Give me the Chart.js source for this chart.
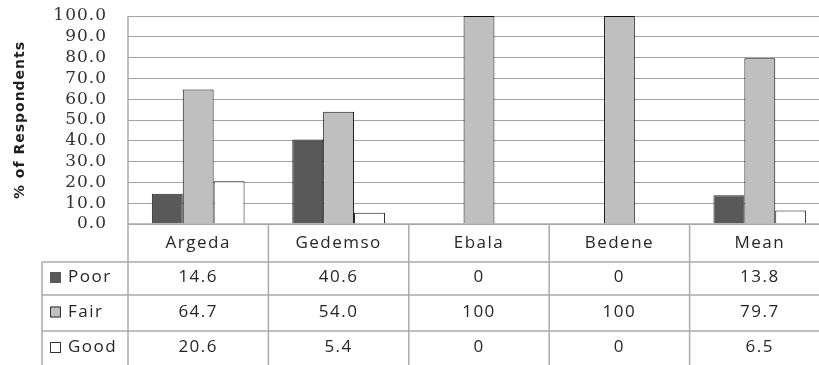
<!DOCTYPE html>
<html>
<head>
<meta charset="utf-8">
<script src="https://cdn.jsdelivr.net/npm/chart.js@4/dist/chart.umd.min.js"></script>
<style>
  html, body { margin: 0; padding: 0; background: #fff; overflow: hidden; }
  #wrap { width: 832px; height: 365px; }
</style>
</head>
<body>
<div id="wrap"><canvas id="c" width="832" height="365"></canvas></div>
<script>
// Sites surveyed and the share of respondents rating each condition
const categories = ['Argeda', 'Gedemso', 'Ebala', 'Bedene', 'Mean'];
const seriesNames = ['Poor', 'Fair', 'Good'];
const poorText = ['14.6', '40.6', '0', '0', '13.8'];
const fairText = ['64.7', '54.0', '100', '100', '79.7'];
const goodText = ['20.6', '5.4', '0', '0', '6.5'];
const poorValues = poorText.map(Number);
const fairValues = fairText.map(Number);
const goodValues = goodText.map(Number);
const seriesText = [poorText, fairText, goodText];
const seriesColors = ['#595959', '#bfbfbf', '#ffffff'];

const tableFont = '17px "Open Sans"';
const lineColor = '#ababab';

// Data table drawn under the plot, one column per category
const dataTable = {
  id: 'dataTable',
  beforeDraw(chart) {
    chart.ctx.letterSpacing = '1px';
  },
  afterDraw(chart) {
    const ctx = chart.ctx;
    const area = chart.chartArea;
    const x = chart.scales.x;
    const n = categories.length;
    const colW = (area.right - area.left) / n;
    const headTop = area.bottom;
    const rowTops = [262, 295, 331];
    const rowBottoms = [295, 331, 366];
    const keyLeft = 42;

    ctx.save();
    ctx.strokeStyle = lineColor;
    ctx.lineWidth = 1.5;
    ctx.beginPath();
    // plot left border running down through the table
    ctx.moveTo(area.left, area.top);
    ctx.lineTo(area.left, 365);
    // category axis line
    ctx.moveTo(area.left, headTop);
    ctx.lineTo(area.right, headTop);
    // row separators
    rowTops.forEach(y => { ctx.moveTo(keyLeft, y); ctx.lineTo(area.right, y); });
    // key column left border
    ctx.moveTo(keyLeft, rowTops[0]);
    ctx.lineTo(keyLeft, 365);
    // category column separators
    for (let i = 1; i <= n; i++) {
      const cx = area.left + i * colW;
      ctx.moveTo(cx, headTop);
      ctx.lineTo(cx, 365);
    }
    ctx.stroke();

    ctx.font = tableFont;
    ctx.letterSpacing = '1.5px';
    ctx.fillStyle = '#262626';
    ctx.textBaseline = 'middle';
    ctx.textAlign = 'center';
    categories.forEach((c, i) => {
      ctx.fillText(c, x.getPixelForValue(i), (headTop + rowTops[0]) / 2);
    });

    seriesNames.forEach((name, r) => {
      const cy = (rowTops[r] + rowBottoms[r]) / 2 - 1;
      // legend key
      ctx.fillStyle = seriesColors[r];
      ctx.fillRect(50, cy - 5.5, 11, 11);
      ctx.strokeStyle = r === 0 ? '#595959' : '#333';
      ctx.lineWidth = 1;
      ctx.strokeRect(50.5, cy - 5, 10, 10);
      ctx.fillStyle = '#262626';
      ctx.textAlign = 'left';
      ctx.fillText(name, 68, cy);
      ctx.textAlign = 'center';
      seriesText[r].forEach((t, i) => {
        ctx.fillText(t, x.getPixelForValue(i), cy);
      });
    });
    ctx.restore();
  }
};

new Chart(document.getElementById('c'), {
  type: 'bar',
  data: {
    labels: categories,
    datasets: [
      { label: seriesNames[0], data: poorValues, backgroundColor: seriesColors[0], borderColor: '#2a2a2a', borderWidth: 1 },
      { label: seriesNames[1], data: fairValues, backgroundColor: seriesColors[1], borderColor: '#111', borderWidth: 1 },
      { label: seriesNames[2], data: goodValues, backgroundColor: seriesColors[2], borderColor: '#111', borderWidth: 1 }
    ]
  },
  options: {
    responsive: false,
    devicePixelRatio: 1,
    animation: false,
    layout: { padding: { top: 16, bottom: 141, left: 0, right: 2 } },
    datasets: { bar: { categoryPercentage: 0.66, barPercentage: 1.0 } },
    plugins: { legend: { display: false }, tooltip: { enabled: false } },
    scales: {
      x: { display: false },
      y: {
        min: 0,
        max: 100,
        ticks: {
          stepSize: 10,
          autoSkip: false,
          padding: 21,
          color: '#333',
          font: { family: '"DejaVu Serif"', size: 17, lineHeight: 1 },
          callback: v => v.toFixed(1)
        },
        grid: { color: '#a3a3a3', lineWidth: 1, drawTicks: false },
        border: { display: false },
        title: {
          display: true,
          text: '% of Respondents',
          color: '#1f1f1f',
          font: { family: '"DejaVu Sans"', size: 14, weight: 'bold' },
          padding: { top: 12, bottom: 0 }
        },
        afterFit(scale) {
          scale.width = 128;
          scale.paddingTop = 0;
          scale.paddingBottom = 0;
        }
      }
    }
  },
  plugins: [dataTable]
});
</script>
</body>
</html>
